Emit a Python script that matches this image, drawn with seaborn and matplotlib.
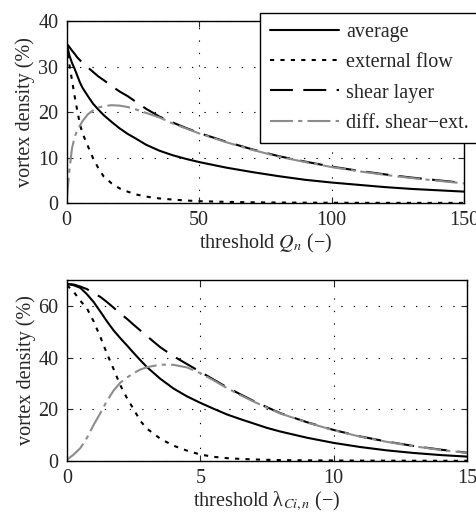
import numpy as np
import pandas as pd
import matplotlib
matplotlib.use("Agg")
import matplotlib.pyplot as plt
import seaborn as sns

# --- datos ---
labels = ["average", "external flow", "shear layer", "diff. shear\u2212ext."]

# panel superior: umbral Q_n
q_x = [0, 1, 2, 3, 4, 5, 6, 8, 10, 12, 14, 17, 20, 23, 26, 30, 35, 40, 45, 50,
       60, 70, 80, 90, 100, 110, 120, 130, 140, 150]
q_avg = [35, 32.5, 30.8, 29.5, 28, 26.5, 25.3, 23.5, 21.8, 20.5, 19.3, 17.8, 16.4, 15.2, 14.2,
         12.8, 11.5, 10.5, 9.7, 9.0, 7.8, 6.8, 5.9, 5.1, 4.5, 4.0, 3.5, 3.1, 2.8, 2.5]
q_ext = [35, 30.5, 27, 23.5, 20.3, 17.3, 15.3, 12.5, 9.8, 7.6, 5.8, 4.3, 3.2, 2.5, 1.9,
         1.4, 1.0, 0.75, 0.55, 0.4, 0.25, 0.15, 0.1, 0.07, 0.05, 0.04, 0.03, 0.03, 0.02, 0.02]
q_shear = [35, 34.3, 33.5, 32.8, 32, 31.4, 30.8, 29.8, 28.8, 27.8, 27, 25.7, 24.5, 23.5, 22.3,
           20.7, 19, 17.7, 16.5, 15.4, 13.5, 11.8, 10.3, 9.1, 8.0, 7.1, 6.3, 5.6, 5.0, 4.4]
q_diff = [0.5, 7, 12, 14.5, 16, 17, 18, 19.5, 20.4, 21, 21.3, 21.5, 21.4, 21.1, 20.6,
          19.8, 18.8, 17.5, 16.4, 15.3, 13.4, 11.7, 10.2, 9.0, 7.9, 7.0, 6.2, 5.5, 4.9, 4.3]

# panel inferior: umbral lambda_Ci,n
l_x = [0, 0.25, 0.5, 0.75, 1, 1.25, 1.5, 1.75, 2, 2.25, 2.5, 2.75, 3, 3.5, 4, 4.5, 5,
       5.5, 6, 6.5, 7, 7.5, 8, 9, 10, 11, 12, 13, 14, 15]
l_avg = [68.5, 68, 67, 64.5, 61.5, 57.8, 54, 50.5, 47.5, 44.7, 41.8, 39, 36.3, 31.8, 28, 25, 22.5,
         20.2, 18, 16.2, 14.5, 12.8, 11.4, 9, 7, 5.4, 4.1, 3.1, 2.3, 1.7]
l_ext = [68, 65.5, 62, 59, 54, 48, 41.5, 35.5, 29.3, 24.3, 20, 15.5, 12.5, 8.6, 5.9, 4, 2.5,
         1.6, 1.1, 0.8, 0.6, 0.45, 0.35, 0.25, 0.2, 0.15, 0.12, 0.1, 0.08, 0.07]
l_shear = [68.5, 68.3, 67.5, 66.5, 65, 63.5, 61.5, 59.3, 57, 55, 52.7, 50.5, 48.3, 44, 40.5, 37.5, 34.5,
           31.5, 28.5, 25.8, 23.2, 20.8, 18.5, 15, 12, 9.5, 7.5, 5.8, 4.4, 3.2]
l_diff = [0.5, 2.5, 5, 9, 14, 18.5, 23.3, 27.3, 30.3, 32.3, 34, 35.4, 36.3, 37.3, 37.2, 36.2, 34,
          31.2, 28.2, 25.5, 23, 20.6, 18.4, 14.9, 11.9, 9.4, 7.4, 5.7, 4.3, 3.1]

# --- estilo ---
sns.set_style("ticks")
plt.rcParams["font.family"] = ["Liberation Serif", "DejaVu Serif"]
plt.rcParams["mathtext.fontset"] = "stix"
FS = 14.5
plt.rcParams["font.size"] = FS

styles = [
    dict(color="black", linestyle="-"),
    dict(color="black", linestyle=(0, (2.0, 3.0))),
    dict(color="black", linestyle=(0, (11, 5))),
    dict(color="#8c8c8c", linestyle=(0, (11, 2.5, 2, 2.5))),
]

fig = plt.figure(figsize=(4.77, 5.13), dpi=100)
ax1 = fig.add_axes([0.1398, 0.6043, 0.8329, 0.3547])
ax2 = fig.add_axes([0.1405, 0.1014, 0.8385, 0.3526])


def draw_panel(ax, x, series):
    for y, lab, st in zip(series, labels, styles):
        df = pd.DataFrame({"x": x, "y": y})
        sns.lineplot(data=df, x="x", y="y", ax=ax, label=lab, lw=1.5, **st)
    ax.grid(True, color="black", linestyle=(0, (1.2, 10)), linewidth=0.8)
    ax.tick_params(direction="in", length=4, top=True, right=True, labelsize=FS, pad=6)
    for s in ax.spines.values():
        s.set_linewidth(1.0)
        s.set_color("black")
    ax.set_ylabel("vortex density (%)", fontsize=FS, labelpad=2)


draw_panel(ax1, q_x, [q_avg, q_ext, q_shear, q_diff])
ax1.set_xlim(0, 150)
ax1.set_ylim(0, 40)
ax1.set_xticks([0, 50, 100, 150])
ax1.set_yticks([0, 10, 20, 30, 40])
ax1.set_xlabel("threshold $Q_n$ (\u2212)", fontsize=FS, labelpad=1)
leg = ax1.legend(loc="upper left", bbox_to_anchor=(0.487, 1.044), borderaxespad=0,
                 frameon=True, fancybox=False, edgecolor="black", framealpha=1,
                 handlelength=3.4, handletextpad=0.35, labelspacing=0.55,
                 borderpad=0.5, fontsize=FS)
leg.get_frame().set_linewidth(1.0)
leg.set_zorder(10)

draw_panel(ax2, l_x, [l_avg, l_ext, l_shear, l_diff])
ax2.legend().remove()
ax2.set_xlim(0, 15)
ax2.set_ylim(0, 70)
ax2.set_xticks([0, 5, 10, 15])
ax2.set_yticks([0, 20, 40, 60])
ax2.set_xlabel("threshold \u03bb$_{Ci,n}$ (\u2212)", fontsize=FS, labelpad=1)

fig.savefig("out.png", dpi=100)
